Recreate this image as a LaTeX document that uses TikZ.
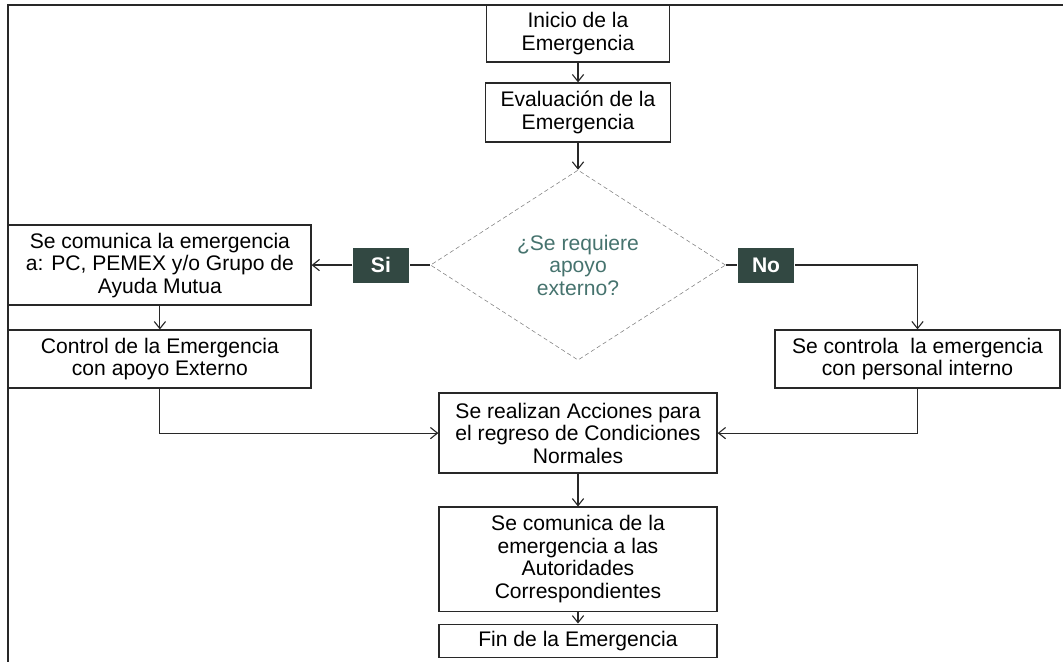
\documentclass[tikz,border=0pt]{standalone}
\usepackage{fontspec}
\setmainfont{Liberation Sans}
\usetikzlibrary{shapes.geometric,arrows.meta}
\definecolor{asktext}{RGB}{70,115,110}
\definecolor{tagfill}{RGB}{50,72,66}
\definecolor{inkline}{RGB}{40,40,40}

\begin{document}
\begin{tikzpicture}[x=0.025cm, y=-0.025cm, >={Straight Barb[length=5pt,width=8pt]},
    every node/.style={align=center, font=\fontsize{15}{16}\selectfont},
    stagebox/.style={rectangle, draw=inkline, line width=0.9pt, fill=white, inner sep=2pt},
    askbox/.style={diamond, draw=gray, densely dashed, thin, aspect=1.55, inner sep=0pt, minimum width=7.375cm, minimum height=4.75cm, text=asktext},
    tagbox/.style={rectangle, fill=tagfill, text=white, font=\fontsize{15}{16}\selectfont\bfseries, minimum width=1.42cm, minimum height=0.875cm},
    flow/.style={draw=inkline, line width=0.8pt}]
        \useasboundingbox (0,0) rectangle (1063,662);
        % page frame
        \draw[inkline, line width=1.2pt] (8,662) -- (8,5) -- (1063,5);

        \node (ini) [stagebox, minimum width=4.575cm, minimum height=1.425cm] at (578,33.5) {Inicio de la \\ Emergencia};
        \node (eva) [stagebox, below of=ini, node distance=1.975cm, minimum width=4.625cm, minimum height=1.475cm] {Evaluación de la \\ Emergencia};
        \node (dec) [askbox, below of=eva, node distance=3.8125cm] {¿Se requiere \\ apoyo \\ externo?};
        \node (com) [stagebox, left of=dec, node distance=10.45cm, minimum width=7.55cm, minimum height=2cm] {Se comunica la emergencia \\ a: PC, PEMEX y/o Grupo de \\ Ayuda Mutua};
        \node (ctl) [stagebox, below of=com, node distance=2.35cm, minimum width=7.55cm, minimum height=1.45cm] {Control de la Emergencia \\ con apoyo Externo};
        \node (int) [stagebox, minimum width=7.125cm, minimum height=1.45cm] at (917.5,359) {Se controla~ la emergencia \\ con personal interno};
        \node (acc) [stagebox, below of=dec, node distance=4.2cm, minimum width=6.95cm, minimum height=2cm] {Se realizan Acciones para \\ el regreso de Condiciones \\ Normales};
        \node (aut) [stagebox, below of=acc, node distance=3.15cm, minimum width=6.95cm, minimum height=2.6cm] {Se comunica de la \\ emergencia a las \\ Autoridades \\ Correspondientes};
        \node (fin) [stagebox, below of=aut, node distance=2.0375cm, minimum width=6.95cm, minimum height=0.825cm] {Fin de la Emergencia};
        \node (si) [tagbox, left of=dec, node distance=4.925cm] {Si};
        \node (no) [tagbox, right of=dec, node distance=4.7cm] {No};

        \draw[flow, ->] (ini) -- (eva);
        \draw[flow, ->] (eva) -- (dec);
        \draw[flow] (dec) -- (si);
        \draw[flow, ->] (si) -- (com);
        \draw[flow] (dec) -- (no);
        \draw[flow, ->] (no) -| (int);
        \draw[flow, ->] (com) -- (ctl);
        \draw[flow, ->] (ctl) |- (acc);
        \draw[flow, ->] (int) |- (acc);
        \draw[flow, ->] (acc) -- (aut);
        \draw[flow, ->] (aut) -- (fin);
    \end{tikzpicture}
\end{document}
